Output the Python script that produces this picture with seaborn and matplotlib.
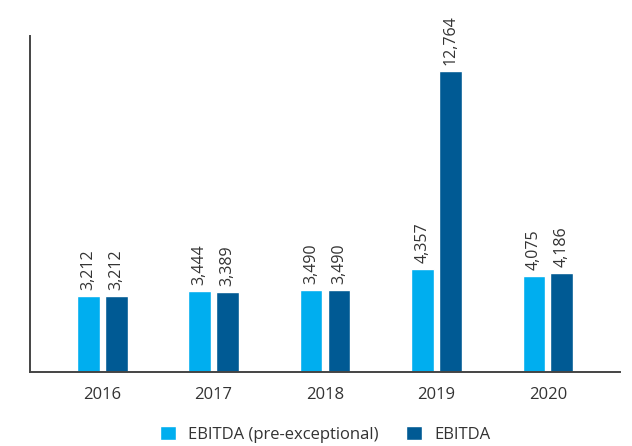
import matplotlib
matplotlib.use("Agg")
import matplotlib.pyplot as plt
import seaborn as sns
import pandas as pd

years = ["2016", "2017", "2018", "2019", "2020"]
series_names = ["EBITDA (pre-exceptional)", "EBITDA"]
pre_exceptional = [3212, 3444, 3490, 4357, 4075]
ebitda = [3212, 3389, 3490, 12764, 4186]
colors = ["#00AEEF", "#005A94"]

df = pd.DataFrame({
    "year": years * 2,
    "series": [series_names[0]] * len(years) + [series_names[1]] * len(years),
    "value": pre_exceptional + ebitda,
})

sns.set_theme(style="white")
plt.rcParams["font.family"] = ["Open Sans", "DejaVu Sans"]

fig = plt.figure(figsize=(6.32, 4.46), dpi=100)
ax = fig.add_axes([0.0475, 0.166, 0.9335, 0.753])

sns.barplot(data=df, x="year", y="value", hue="series", palette=colors,
            width=0.502, gap=0.18, ax=ax, saturation=1, errorbar=None)

for cont in ax.containers:
    labels = [f"{v:,.0f}" for v in cont.datavalues]
    ax.bar_label(cont, labels=labels, rotation=90, padding=4.3,
                 fontsize=11.5, color="#333333")

ax.set_xlim(-0.646, 4.646)
ax.set_ylim(0, 14250)
ax.set_xlabel("")
ax.set_ylabel("")
ax.set_yticks([])
ax.tick_params(axis="x", length=0, labelsize=12, labelcolor="#333333", pad=11)
for s in ["top", "right"]:
    ax.spines[s].set_visible(False)
for s in ["left", "bottom"]:
    ax.spines[s].set_color("#444444")
    ax.spines[s].set_linewidth(1.4)

leg = ax.legend(loc="lower center", bbox_to_anchor=(0.5, -0.255), ncol=2,
                frameon=False, fontsize=12, handlelength=0.95, handleheight=0.9,
                columnspacing=1.7, handletextpad=0.72)
for t in leg.get_texts():
    t.set_color("#333333")

fig.savefig("out.png", dpi=100)
